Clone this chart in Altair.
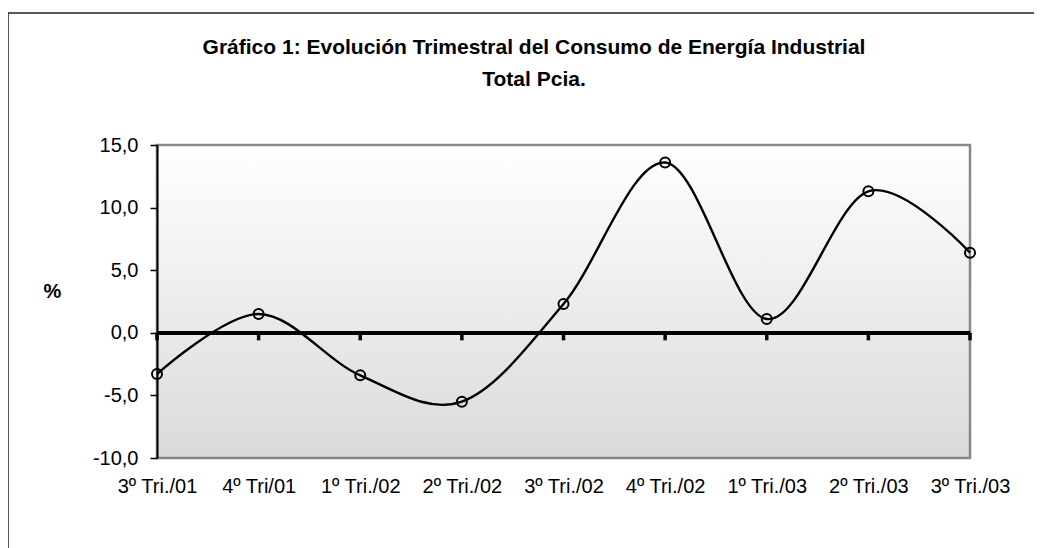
import altair as alt
import pandas as pd

categories = ["3º Tri./01", "4º Tri/01", "1º Tri./02", "2º Tri./02", "3º Tri./02",
              "4º Tri./02", "1º Tri./03", "2º Tri./03", "3º Tri./03"]
values = [-3.3, 1.5, -3.4, -5.5, 2.3, 13.6, 1.1, 11.3, 6.4]
y_ticks = [-10, -5, 0, 5, 10, 15]
title_lines = ["Gráfico 1: Evolución Trimestral del Consumo de Energía Industrial", "Total Pcia."]

FONT = "Liberation Sans"
W, H = 813, 313

df = pd.DataFrame({"cat": categories, "val": values})
one = pd.DataFrame({"a": [0]})

xaxis = alt.Axis(title=None, ticks=False, domain=False, labelAngle=0,
                 labelFont=FONT, labelFontSize=20, labelColor="#000",
                 labelAlign="center", labelBaseline="top",
                 labelPadding=18, grid=False)
xscale = alt.Scale(type="point", padding=0)
xenc = alt.X("cat:N", sort=categories, scale=xscale, axis=xaxis)
yenc = alt.Y("val:Q", scale=alt.Scale(domain=[-10, 15], nice=False, zero=False),
             axis=alt.Axis(values=y_ticks, title="%", titleAngle=0, titleX=-105, titleY=146,
                           titleAlign="center", titleBaseline="middle",
                           titleFont=FONT, titleFontSize=20, titleFontWeight="bold",
                           titleColor="#000",
                           labelExpr="(datum.value < 0 ? '-' : '') + replace(format(abs(datum.value), '.1f'), '.', ',')",
                           labelFont=FONT, labelFontSize=20, labelColor="#000",
                           tickSize=7, labelPadding=12, tickColor="#000", tickWidth=1.5,
                           domainColor="#000", domainWidth=2, grid=False, zindex=2))

bg = alt.Chart(one).mark_rect(
    color=alt.Gradient(gradient="linear",
                       stops=[alt.GradientStop(color="#ffffff", offset=0),
                              alt.GradientStop(color="#dadada", offset=1)],
                       x1=0, x2=0, y1=0, y2=1)
).encode(x=alt.value(0), x2=alt.value(W), y=alt.value(0), y2=alt.value(H))

border = alt.Chart(one).mark_rect(fill=None, stroke="#888", strokeWidth=2.5).encode(
    x=alt.value(0), x2=alt.value(W), y=alt.value(0), y2=alt.value(H))

frame = alt.Chart(one).mark_rect(fill=None, stroke="#222", strokeWidth=1.5, clip=False).encode(
    x=alt.value(-149), x2=alt.value(895), y=alt.value(-132), y2=alt.value(410))

zero = alt.Chart(df).mark_rule(color="#000", strokeWidth=3.5).encode(y=alt.datum(0))

ticks = alt.Chart(df).mark_rule(color="#000", strokeWidth=3.5).encode(
    x=xenc, y=alt.datum(0), y2=alt.datum(-0.6))

line = alt.Chart(df).mark_line(color="#000", strokeWidth=2.4, interpolate="cardinal").encode(
    x=xenc, y=yenc)

pts = alt.Chart(df).mark_point(shape="circle", filled=False, color="#000", size=100,
                               strokeWidth=2, opacity=1).encode(
    x=xenc, y=yenc)

def title_line(txt, ypix):
    return alt.Chart(one).mark_text(font=FONT, fontSize=21, fontWeight="bold", color="#000",
                                    align="center", baseline="alphabetic", clip=False).encode(
        text=alt.value(txt), x=alt.value(377), y=alt.value(ypix))

t1 = title_line(title_lines[0], -91)
t2 = title_line(title_lines[1], -59)

chart = alt.layer(bg, border, frame, zero, ticks, line, pts, t1, t2).properties(
    width=W, height=H,
    autosize=alt.AutoSizeParams(type="none"),
    padding={"left": 149, "top": 137, "right": 64, "bottom": 90},
).configure_view(stroke=None).configure(background="white")

chart.save("out.html", embed_options={"renderer": "svg", "actions": False})
